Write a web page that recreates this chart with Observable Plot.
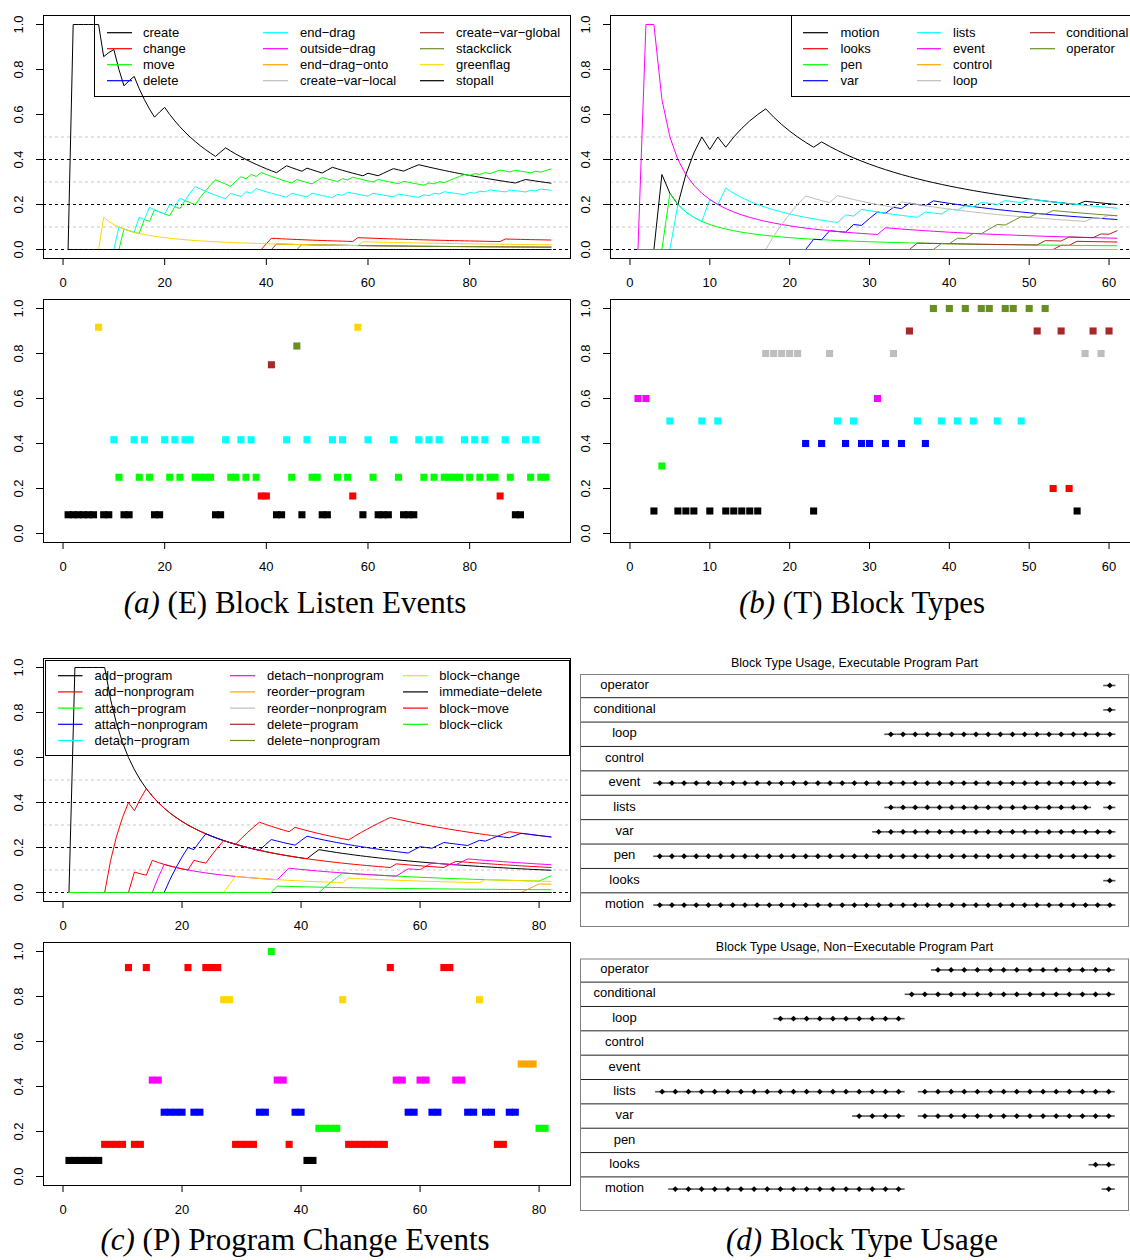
<!DOCTYPE html>
<html><head><meta charset="utf-8">
<script src="https://cdn.jsdelivr.net/npm/d3@7"></script>
<script src="https://cdn.jsdelivr.net/npm/@observablehq/plot@0.6"></script>
<style>
body{margin:0;background:#fff;}
#root{position:relative;width:1130px;height:1260px;overflow:hidden;background:#fff;font-family:'Liberation Sans',Arial,Helvetica,sans-serif;}
#root > div.panel{position:absolute;}
.cap{position:absolute;font-family:'Liberation Serif','Times New Roman',serif;font-size:31px;white-space:nowrap;transform:translate(-50%,-50%);color:#000;line-height:1;}
</style></head><body><div id="root"></div>
<script>
// ---------------- DATA ----------------
const yTicks = [0, 0.2, 0.4, 0.6, 0.8, 1.0];
const blackRefs = [0, 0.2, 0.4];
const greyRefs = [0.1, 0.3, 0.5];

// (a) Block listen events
const listenCats = ["create","change","move","delete","end−drag","outside−drag","end−drag−onto","create−var−local","create−var−global","stackclick","greenflag","stopall"];
const listenColors = ["#000000","#FF0000","#00FF00","#0000FF","#00FFFF","#FF00FF","#FFA500","#BEBEBE","#A52A2A","#6B8E23","#FFD700","#000000"];
const listenTicks = [0, 20, 40, 60, 80];
const [CR, CH, MV, DL, ED, OD, EDO, CVL, CVG, SC, GF, SA] = listenCats;
const listenSeq = [CR,CR,CR,CR,CR,CR, GF, CR,CR, ED, MV, CR,CR, ED, MV, ED, MV, CR,CR, ED,
  MV, ED, MV, ED,ED, MV,MV,MV,MV, CR,CR, ED, MV,MV, ED, MV, ED, MV, CH,CH,
  CVG, CR,CR, ED, MV, SC, CR, ED, MV,MV, CR,CR, ED, MV, ED, MV, CH, GF, CR, ED,
  MV, CR,CR,CR, ED, MV, CR,CR,CR, ED, MV, ED, MV, ED, MV,MV,MV,MV, ED, MV,
  ED, MV, ED, MV,MV, CH, ED, MV, CR,CR, ED, MV, ED, MV,MV];

// (b) Block types
const typeCats = ["motion","looks","pen","var","lists","event","control","loop","conditional","operator"];
const typeColors = ["#000000","#FF0000","#00FF00","#0000FF","#00FFFF","#FF00FF","#FFA500","#BEBEBE","#A52A2A","#6B8E23"];
const typeTicks = [0, 10, 20, 30, 40, 50, 60];
const [MO, LK, PN, VR, LS, EV, CT, LP, CD, OP] = typeCats;
const typeSeq = [EV,EV,MO,PN,LS,MO,MO,MO,LS,MO, LS,MO,MO,MO,MO,MO,LP,LP,LP,LP,
  LP,VR,MO,VR,LP,LS,VR,LS,VR,VR, EV,VR,LP,VR,CD,LS,VR,OP,LS,OP,
  LS,OP,LS,OP,OP,LS,OP,OP,LS,OP, CD,OP,LK,CD,LK,MO,LP,CD,LP,CD];

// (c) Program change events
const changeCats = ["add−program","add−nonprogram","attach−program","attach−nonprogram","detach−program","detach−nonprogram","reorder−program","reorder−nonprogram","delete−program","delete−nonprogram","block−change","immediate−delete","block−move","block−click"];
const changeColors = ["#000000","#FF0000","#00FF00","#0000FF","#00FFFF","#FF00FF","#FFA500","#BEBEBE","#A52A2A","#6B8E23","#FFD700","#000000","#FF0000","#00FF00"];
const changeTicks = [0, 20, 40, 60, 80];
const [AP, AN, TP, TN, DP, DN, RP, RN, XP, XN, BC, ID, BM, BK] = changeCats;
const changeSeq = [AP,AP,AP,AP,AP,AP, AN,AN,AN,AN, BM, AN,AN, BM, DN,DN, TN,TN,TN,TN,
  BM, TN,TN, BM,BM,BM, BC,BC, AN,AN,AN,AN, TN,TN, BK, DN,DN, AN, TN,TN,
  AP,AP, TP,TP,TP,TP, BC, AN,AN,AN,AN,AN,AN,AN, BM, DN,DN, TN,TN, DN,
  DN, TN,TN, BM,BM, DN,DN, TN,TN, BC, TN,TN, AN,AN, TN,TN, RP,RP,RP, TP, TP];

// (d) Block type usage
const usageRows = ["operator","conditional","loop","control","event","lists","var","pen","looks","motion"];
const execUsage = [
  [38],
  [38],
  [20,21,22,23,24,25,26,27,28,29,30,31,32,33,34,35,36,37,38],
  [],
  [1,2,3,4,5,6,7,8,9,10,11,12,13,14,15,16,17,18,19,20,21,22,23,24,25,26,27,28,29,30,31,32,33,34,35,36,37,38],
  [20,21,22,23,24,25,26,27,28,29,30,31,32,33,34,35,36,38],
  [19,20,21,22,23,24,25,26,27,28,29,30,31,32,33,34,35,36,37,38],
  [1,2,3,4,5,6,7,8,9,10,11,12,13,14,15,16,17,18,19,20,21,22,23,24,25,26,27,28,29,30,31,32,33,34,35,36,37,38],
  [38],
  [1,2,3,4,5,6,7,8,9,10,11,12,13,14,15,16,17,18,19,20,21,22,23,24,25,26,27,28,29,30,31,32,33,34,35,36,37,38]
];
const execCount = 38;
const nonExecUsage = [
  [22,23,24,25,26,27,28,29,30,31,32,33,34,35],
  [20,21,22,23,24,25,26,27,28,29,30,31,32,33,34,35],
  [10,11,12,13,14,15,16,17,18,19],
  [],
  [],
  [1,2,3,4,5,6,7,8,9,10,11,12,13,14,15,16,17,18,19,21,22,23,24,25,26,27,28,29,30,31,32,33,34,35],
  [16,17,18,19,21,22,23,24,25,26,27,28,29,30,31,32,33,34,35],
  [],
  [34,35],
  [2,3,4,5,6,7,8,9,10,11,12,13,14,15,16,17,18,19,35]
];
const nonExecCount = 35;

// ---------------- RENDERING ----------------
const root = document.getElementById("root");
const fmt = d3.format(".1f");
const plotStyle = {fontFamily: "'Liberation Sans', Arial, Helvetica, sans-serif", fontSize: "13px", color: "black", background: "none", overflow: "visible", maxWidth: "none"};

function place(node, left, top) {
  const div = document.createElement("div");
  div.className = "panel";
  div.style.left = left + "px";
  div.style.top = top + "px";
  div.appendChild(node);
  root.appendChild(div);
}

function axesMarks(xTicks) {
  return [
    Plot.frame({stroke: "black"}),
    Plot.axisX({ticks: xTicks, tickSize: 7, tickPadding: 12, label: null, fontSize: 13}),
    Plot.axisY({ticks: yTicks, tickSize: 7, fill: "none", label: null}),
    Plot.text(yTicks, {y: d => d, text: d => fmt(d), frameAnchor: "left", textAnchor: "middle", lineAnchor: "middle", rotate: -90, dx: -25, fontSize: 13})
  ];
}

const running = V => { let s = 0; return Array.from(V, (v, i) => i === 0 ? 0 : (s += v) / i); };

function lineChart(seq, cats, colors, xTicks, xDomain, dims) {
  const rows = [];
  cats.forEach(c => {
    for (let x = 1; x <= seq.length + 1; ++x) rows.push({cat: c, x, hit: x > 1 && seq[x - 2] === c ? 1 : 0});
  });
  return Plot.plot({
    ...dims,
    style: plotStyle,
    x: {domain: xDomain},
    y: {domain: [-0.04, 1.04]},
    color: {domain: cats, range: colors},
    marks: [
      Plot.ruleY(greyRefs, {stroke: "#C8C8C8", strokeDasharray: "3,3"}),
      Plot.ruleY(blackRefs, {stroke: "#000", strokeDasharray: "3,3"}),
      Plot.line(rows, Plot.mapY(running, {x: "x", y: "hit", z: "cat", stroke: "cat", strokeWidth: 1})),
      ...axesMarks(xTicks)
    ]
  });
}

function dotChart(seq, cats, colors, xTicks, xDomain, dims) {
  const events = seq.map((c, i) => ({x: i + 1, cat: c, level: (cats.indexOf(c) + 1) / cats.length}));
  return Plot.plot({
    ...dims,
    style: plotStyle,
    x: {domain: xDomain},
    y: {domain: [-0.04, 1.04]},
    color: {domain: cats, range: colors},
    marks: [
      Plot.dot(events, {x: "x", y: "level", fill: "cat", symbol: "square", r: 4}),
      ...axesMarks(xTicks)
    ]
  });
}

function legend(cats, colors, cfg) {
  const svg = d3.create("svg")
    .attr("width", cfg.w).attr("height", cfg.h)
    .style("position", "absolute").style("left", cfg.left + "px").style("top", cfg.top + "px")
    .style("overflow", "visible")
    .style("font-family", "'Liberation Sans', Arial, Helvetica, sans-serif").style("font-size", "13px");
  svg.append("rect").attr("x", 0.5).attr("y", 0.5).attr("width", cfg.w - 1).attr("height", cfg.h - 1)
    .attr("fill", "none").attr("stroke", "black");
  cats.forEach((c, i) => {
    const col = cfg.cols[Math.floor(i / cfg.rows)];
    const y = cfg.y0 + (i % cfg.rows) * cfg.dy;
    svg.append("line").attr("x1", col[0]).attr("x2", col[1]).attr("y1", y).attr("y2", y).attr("stroke", colors[i]).attr("stroke-width", 1.2);
    svg.append("text").attr("x", col[2]).attr("y", y).attr("dy", "0.35em").attr("fill", "black").text(c);
  });
  root.appendChild(svg.node());
}

function usageChart(usage, count, title, xRange, dims) {
  const n = usageRows.length;
  const pts = usageRows.flatMap((name, i) => usage[i].map(x => ({name, r: n - i, x})));
  const seps = usageRows.slice(1).map((_, i) => i + 1.5);
  return Plot.plot({
    ...dims,
    style: plotStyle,
    x: {domain: [0.5, count + 0.5], range: xRange, axis: null},
    y: {domain: [0.12, 10.45], axis: null},
    marks: [
      Plot.ruleY(seps, {stroke: "#222", strokeWidth: 1}),
      Plot.ruleY(pts, {y: "r", x1: d => d.x - 0.5, x2: d => d.x + 0.5, stroke: "#555", strokeWidth: 1.6}),
      Plot.dot(pts, {x: "x", y: "r", symbol: "diamond2", r: 2.6, fill: "black"}),
      Plot.text(usageRows, {y: (d, i) => n - i, text: d => d, frameAnchor: "left", textAnchor: "middle", lineAnchor: "middle", dx: 44, dy: -1, fontSize: 13}),
      Plot.frame({stroke: "#808080"}),
      Plot.text([title], {text: d => d, frameAnchor: "top", lineAnchor: "middle", dy: -12, fontSize: 12.5})
    ]
  });
}

function caption(html, cx, cy) {
  const d = document.createElement("div");
  d.className = "cap";
  d.style.left = cx + "px";
  d.style.top = cy + "px";
  d.innerHTML = html;
  root.appendChild(d);
}

// (a)
const listenDomain = [-3.84, 99.84];
place(lineChart(listenSeq, listenCats, listenColors, listenTicks, listenDomain,
  {width: 575, height: 300, marginLeft: 43, marginRight: 5, marginTop: 15, marginBottom: 42}), 0, 0);
place(dotChart(listenSeq, listenCats, listenColors, listenTicks, listenDomain,
  {width: 575, height: 290, marginLeft: 43, marginRight: 5, marginTop: 9, marginBottom: 38}), 0, 290);
legend(listenCats, listenColors, {left: 94, top: 15, w: 477, h: 82, rows: 4, y0: 17.7, dy: 16,
  cols: [[13, 38, 49], [169, 194, 206], [326, 350, 362]]});

// (b)
const typeDomain = [-2.44, 63.44];
place(lineChart(typeSeq, typeCats, typeColors, typeTicks, typeDomain,
  {width: 580, height: 300, marginLeft: 35, marginRight: 19, marginTop: 15, marginBottom: 42}), 575, 0);
place(dotChart(typeSeq, typeCats, typeColors, typeTicks, typeDomain,
  {width: 580, height: 290, marginLeft: 35, marginRight: 19, marginTop: 9, marginBottom: 38}), 575, 290);
legend(typeCats, typeColors, {left: 791, top: 15, w: 360, h: 82, rows: 4, y0: 17.7, dy: 16,
  cols: [[12, 37, 49.5], [126, 150, 162], [239, 264, 275.3]]});

// (c)
const changeDomain = [-3.28, 85.28];
place(lineChart(changeSeq, changeCats, changeColors, changeTicks, changeDomain,
  {width: 575, height: 300, marginLeft: 43, marginRight: 5, marginTop: 15, marginBottom: 42}), 0, 643);
place(dotChart(changeSeq, changeCats, changeColors, changeTicks, changeDomain,
  {width: 575, height: 290, marginLeft: 43, marginRight: 5, marginTop: 12, marginBottom: 35}), 0, 930);
legend(changeCats, changeColors, {left: 45, top: 660, w: 525, h: 96, rows: 5, y0: 15.7, dy: 16.2,
  cols: [[13, 37.5, 49.6], [185, 210, 222], [358, 383, 394.3]]});

// (d)
place(usageChart(execUsage, execCount, "Block Type Usage, Executable Program Part", [78.2, 540.4],
  {width: 555, height: 280, marginLeft: 5, marginRight: 2, marginTop: 24, marginBottom: 4}), 575, 650);
place(usageChart(nonExecUsage, nonExecCount, "Block Type Usage, Non−Executable Program Part", [80.1, 539.8],
  {width: 555, height: 280, marginLeft: 5, marginRight: 2, marginTop: 24.5, marginBottom: 4}), 575, 934);

// captions
caption("<i>(a)</i> (E) Block Listen Events", 295, 602);
caption("<i>(b)</i> (T) Block Types", 862, 602);
caption("<i>(c)</i> (P) Program Change Events", 295, 1239);
caption("<i>(d)</i> Block Type Usage", 862, 1239);
</script></body></html>
